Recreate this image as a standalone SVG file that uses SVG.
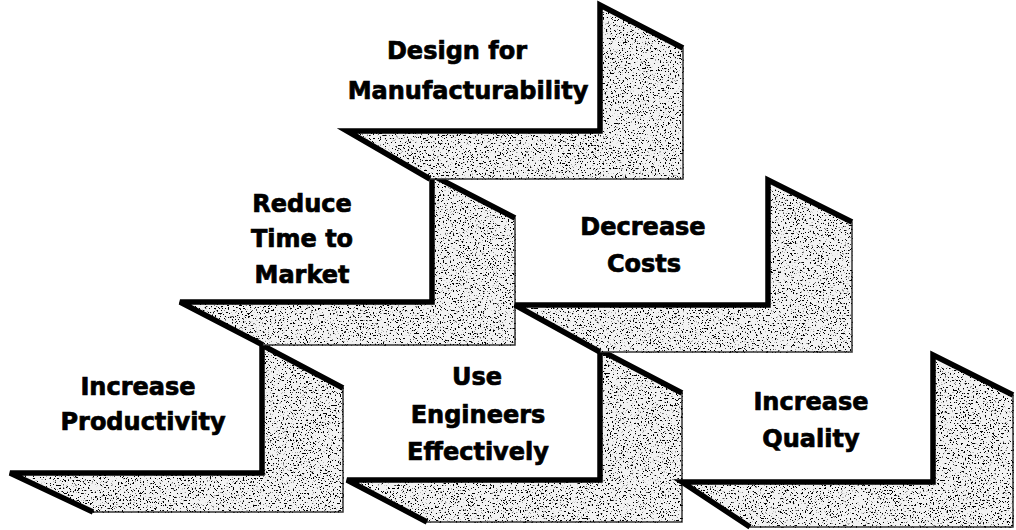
<svg xmlns="http://www.w3.org/2000/svg" width="1016" height="530" viewBox="0 0 1016 530">
<defs>
<filter id="stip" filterUnits="userSpaceOnUse" x="0" y="0" width="1016" height="530">
<feTurbulence type="fractalNoise" baseFrequency="0.6" numOctaves="2" seed="7" result="n"/>
<feColorMatrix in="n" type="matrix" values="0 0 0 0 0  0 0 0 0 0  0 0 0 0 0  -16 0 0 0 6.4" result="dots"/>
<feComposite in="dots" in2="SourceGraphic" operator="in" result="d"/>
<feMerge><feMergeNode in="SourceGraphic"/><feMergeNode in="d"/></feMerge>
</filter>
<style>
.sh{fill:#f2f2f2;stroke:#333;stroke-width:1.5;filter:url(#stip)}
.ed{fill:none;stroke:#000;stroke-width:5.5;stroke-linejoin:miter}
.t{font-family:"DejaVu Sans","Liberation Sans",sans-serif;font-weight:bold;font-size:24px;fill:#000;stroke:#000;stroke-width:0.7;text-anchor:middle}
</style>
</defs>
<rect width="1016" height="530" fill="#fff"/>

<g id="increase-productivity">
<polygon class="sh" points="262,345 343,388 343,512 93,512 10,473 262,473"/>
<polyline class="ed" points="93,512 10,473 262,473 262,345 343,388"/>
<text class="t" x="138" y="395">Increase</text>
<text class="t" x="143" y="430">Productivity</text>
</g>

<g id="use-engineers">
<polygon class="sh" points="600,350 682,393 682,522 427,522 347,480 600,480"/>
<polyline class="ed" points="427,522 347,480 600,480 600,350 682,393"/>
<text class="t" x="477" y="385">Use</text>
<text class="t" x="478" y="423">Engineers</text>
<text class="t" x="478" y="460">Effectively</text>
</g>

<g id="increase-quality">
<polygon class="sh" points="933,355 1013,395 1013,527 750,527 682,482 933,482"/>
<polyline class="ed" points="750,527 682,482 933,482 933,355 1013,395"/>
<text class="t" x="811" y="410">Increase</text>
<text class="t" x="811" y="447">Quality</text>
</g>

<g id="reduce-time">
<polygon class="sh" points="432,175 515,218 515,345 263,345 180,302 432,302"/>
<polyline class="ed" points="263,345 180,302 432,302 432,175 515,218"/>
<text class="t" x="302" y="212">Reduce</text>
<text class="t" x="302" y="247">Time to</text>
<text class="t" x="302" y="283">Market</text>
</g>

<g id="decrease-costs">
<polygon class="sh" points="768,180 852,222 852,352 600,352 515,305 768,305"/>
<polyline class="ed" points="600,352 515,305 768,305 768,180 852,222"/>
<text class="t" x="643" y="235">Decrease</text>
<text class="t" x="644" y="272">Costs</text>
</g>

<g id="design-for-manufacturability">
<polygon class="sh" points="600,5 683,48 683,179 430,179 347,131 600,131"/>
<polyline class="ed" points="430,179 347,131 600,131 600,5 683,48"/>
<text class="t" x="457" y="59">Design for</text>
<text class="t" x="468" y="99">Manufacturability</text>
</g>

<g id="connectors"></g>
</svg>
